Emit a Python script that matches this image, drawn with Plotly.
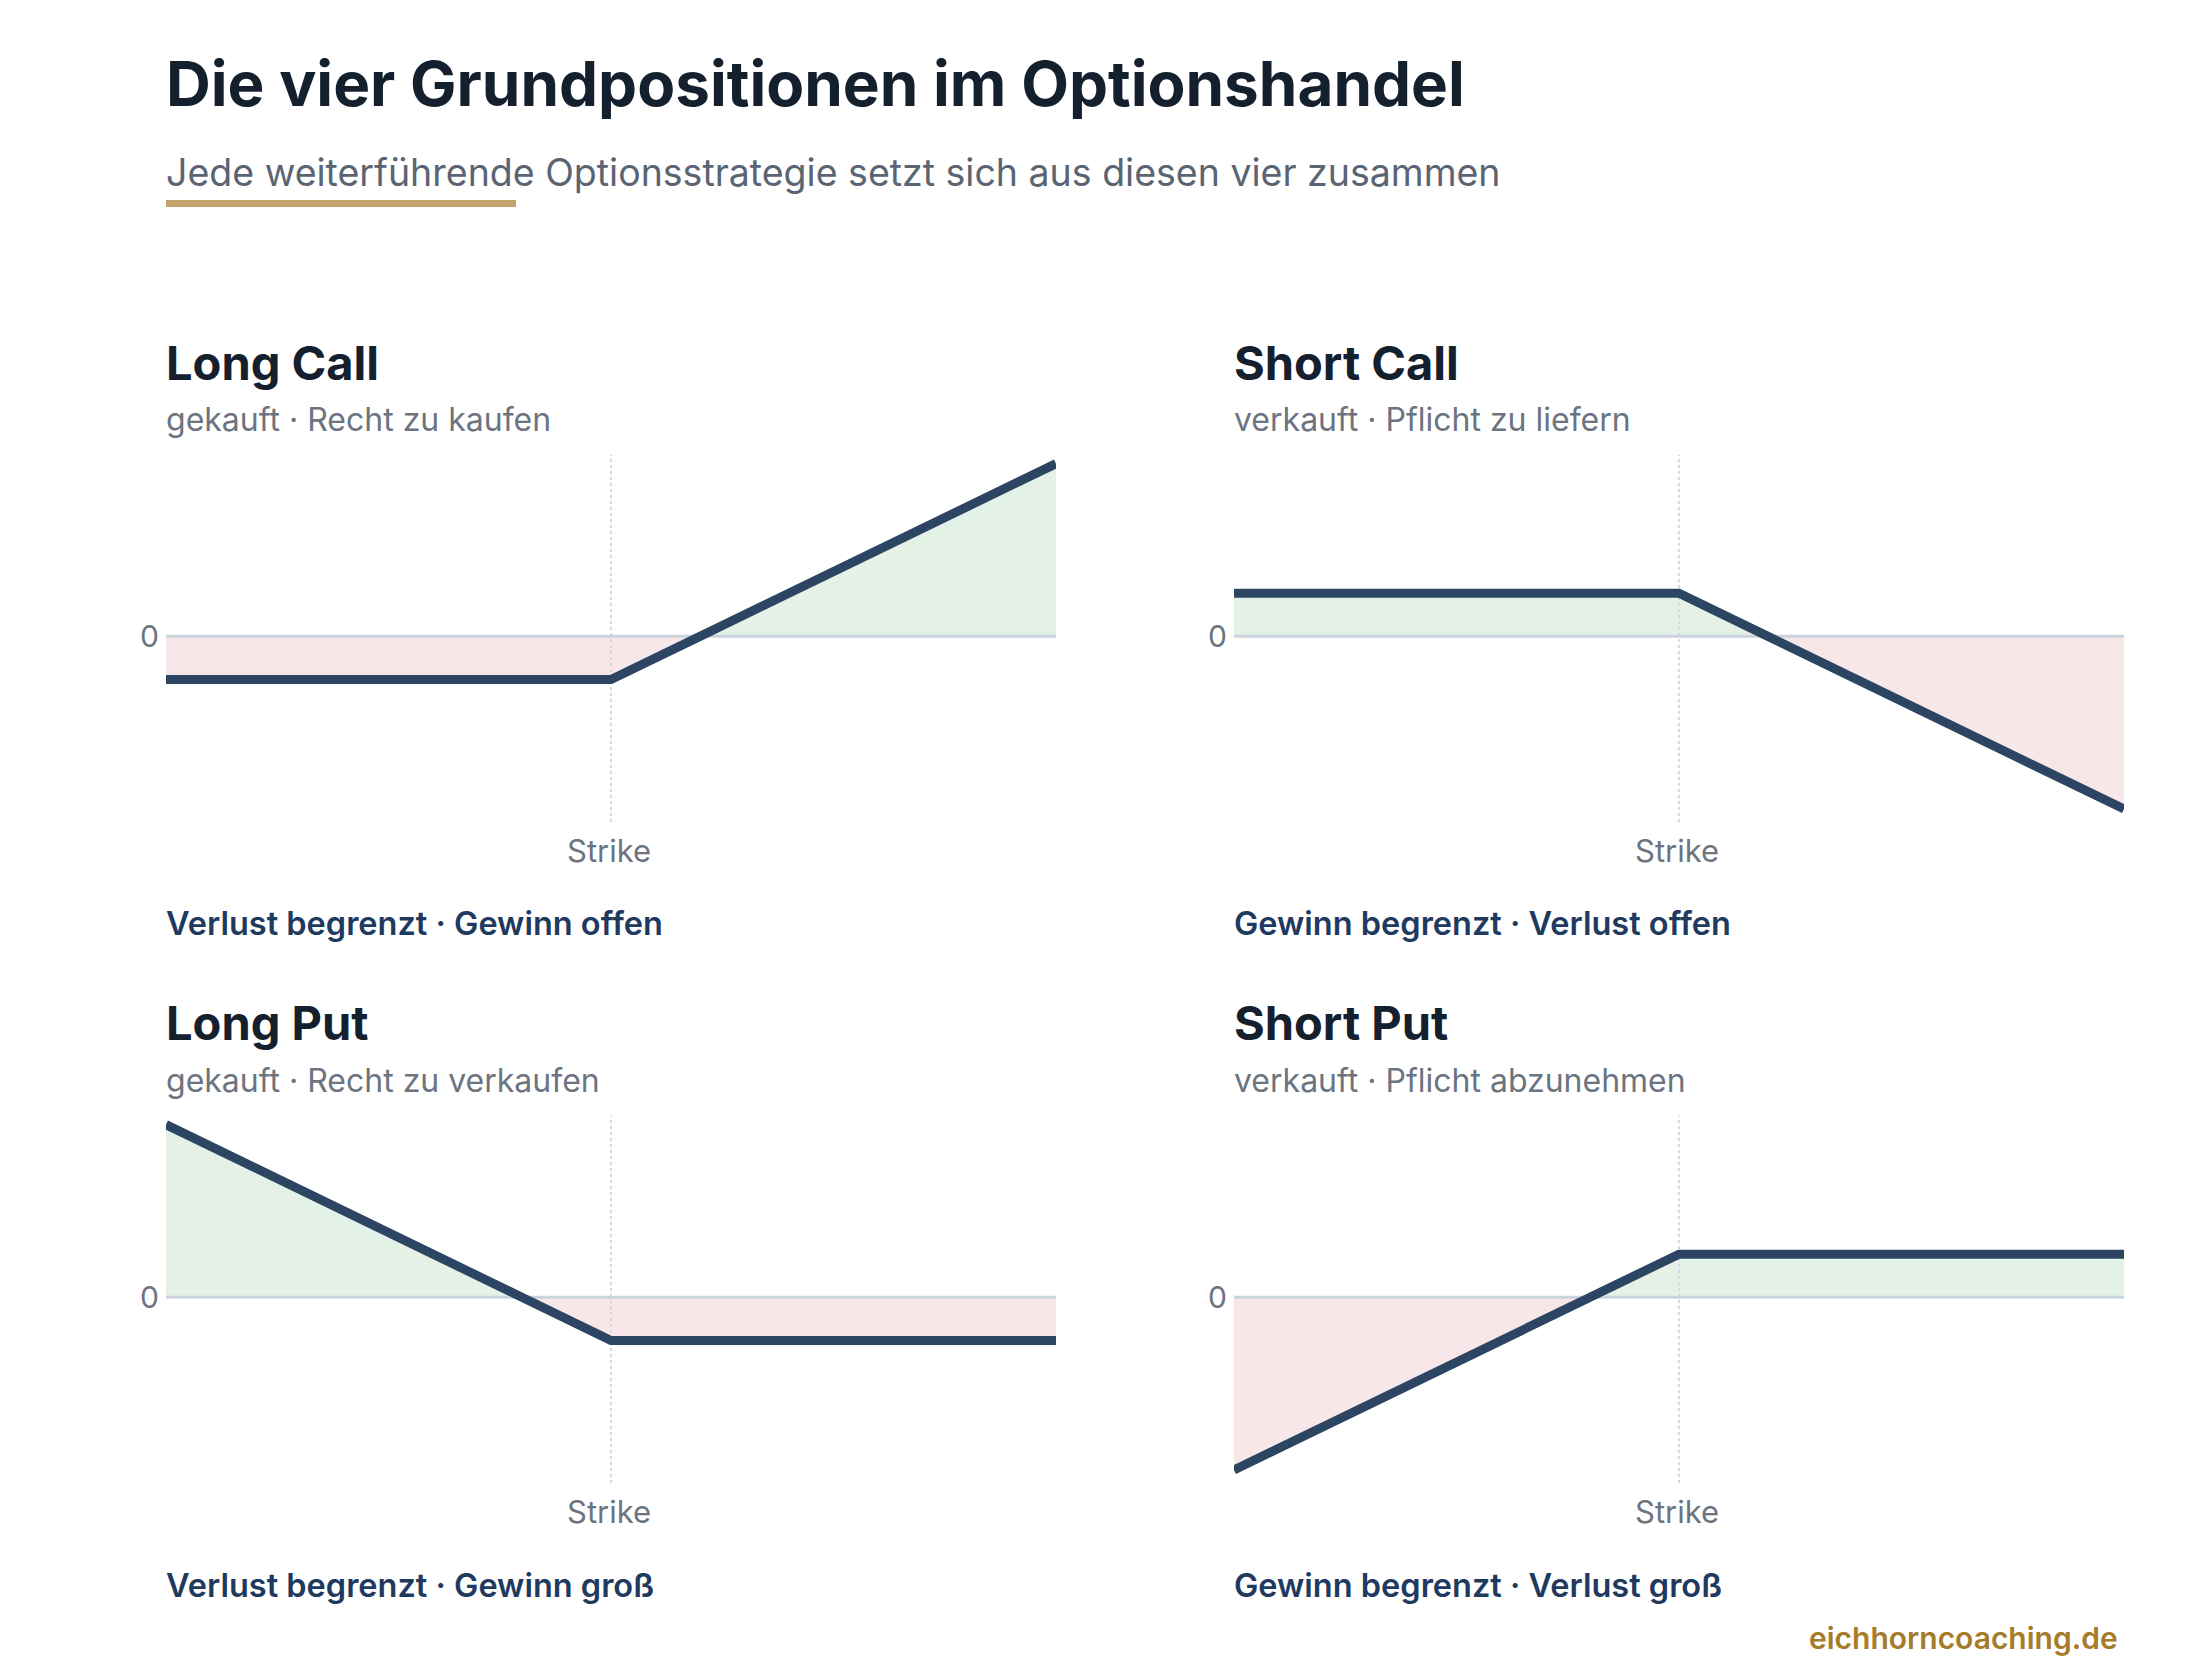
import plotly.graph_objects as go

W, H = 2200, 1680
titles = ["Long Call", "Short Call", "Long Put", "Short Put"]
subtitles = ["gekauft · Recht zu kaufen", "verkauft · Pflicht zu liefern",
             "gekauft · Recht zu verkaufen", "verkauft · Pflicht abzunehmen"]
notes = ["Verlust begrenzt · Gewinn offen", "Gewinn begrenzt · Verlust offen",
         "Verlust begrenzt · Gewinn groß", "Gewinn begrenzt · Verlust groß"]
x_call = [0, 50, 60, 100]
x_put = [0, 40, 50, 100]
xs = [x_call, x_call, x_put, x_put]
ys = [[-1, -1, 0, 4], [1, 1, 0, -4], [4, 0, -1, -1], [-4, 0, 1, 1]]
strike = 50

FONT = "Inter"
LINE = "#2b4563"
GREEN = "rgba(200,228,208,0.5)"
RED = "rgba(240,208,212,0.5)"

fig = go.Figure()
lefts = [158, 1226]
pw = 890
tops = [447, 1108]
ph = 367
def py(p): return 1 - p / H
def px(p): return p / W

ann = []
shapes = []
for i in range(4):
    r, c = divmod(i, 2)
    n = i + 1
    xa = "x" if n == 1 else f"x{n}"
    ya = "y" if n == 1 else f"y{n}"
    x, y = xs[i], ys[i]
    pos = [max(v, 0) for v in y]
    neg = [min(v, 0) for v in y]
    fig.add_trace(go.Scatter(x=x, y=pos, fill="tozeroy", fillcolor=GREEN, line=dict(width=0),
                             mode="lines", xaxis=xa, yaxis=ya, hoverinfo="skip"))
    fig.add_trace(go.Scatter(x=x, y=neg, fill="tozeroy", fillcolor=RED, line=dict(width=0),
                             mode="lines", xaxis=xa, yaxis=ya, hoverinfo="skip"))
    fig.add_trace(go.Scatter(x=[strike, strike], y=[-4.3, 4.3], mode="lines",
                             line=dict(color="#d5d9df", width=2, dash="dot"), xaxis=xa, yaxis=ya, hoverinfo="skip"))
    fig.add_trace(go.Scatter(x=[0, 100], y=[0, 0], mode="lines",
                             line=dict(color="#cbd3dc", width=3), xaxis=xa, yaxis=ya, hoverinfo="skip"))
    fig.add_trace(go.Scatter(x=x, y=y, mode="lines", line=dict(color=LINE, width=9),
                             xaxis=xa, yaxis=ya, hoverinfo="skip"))
    L, T = lefts[c], tops[r]
    fig.layout[f"xaxis{'' if n == 1 else n}"] = dict(domain=[px(L), px(L + pw)], range=[0, 100],
        showgrid=False, zeroline=False, showticklabels=False, anchor=ya, fixedrange=True)
    fig.layout[f"yaxis{'' if n == 1 else n}"] = dict(domain=[py(T + ph), py(T)], range=[-4.3, 4.2],
        showgrid=False, zeroline=False, tickvals=[0], ticktext=["0"], ticks="", ticklabelstandoff=6,
        tickfont=dict(size=30, color="#6b7480", family=FONT), anchor=xa, fixedrange=True)
    ann += [
        dict(x=px(L), y=py(T - 93), text=f"<b>{titles[i]}</b>", showarrow=False, xanchor="left",
             yanchor="middle", font=dict(size=47, color="#14202e", family=FONT)),
        dict(x=px(L), y=py(T - 36), text=subtitles[i], showarrow=False, xanchor="left",
             yanchor="middle", font=dict(size=32, color="#6b7480", family=FONT)),
        dict(x=px(L + pw * 0.5), y=py(T + 395), text="Strike", showarrow=False, xanchor="center",
             yanchor="middle", font=dict(size=31, color="#6b7480", family=FONT)),
        dict(x=px(L), y=py(T + 469), text=notes[i], showarrow=False, xanchor="left",
             yanchor="middle", font=dict(size=32.5, color="#1f3a5f", family=FONT, weight=600)),
    ]

ann += [
    dict(x=px(158), y=py(76), text="<b>Die vier Grundpositionen im Optionshandel</b>", showarrow=False,
         xanchor="left", yanchor="middle", font=dict(size=62, color="#14202e", family=FONT)),
    dict(x=px(158), y=py(165), text="Jede weiterführende Optionsstrategie setzt sich aus diesen vier zusammen",
         showarrow=False, xanchor="left", yanchor="middle", font=dict(size=37.5, color="#5a6472", family=FONT)),
    dict(x=px(2114), y=py(1630), text="eichhorncoaching.de", showarrow=False, xanchor="right",
         yanchor="middle", font=dict(size=30, color="#a67c2a", family=FONT, weight=600)),
]
for a in ann:
    a["xref"] = "paper"
    a["yref"] = "paper"
    a["xshift"] = -2
shapes.append(dict(type="rect", xref="paper", yref="paper", x0=px(158), x1=px(508),
                   y0=py(199), y1=py(192), fillcolor="#c4a36a", line=dict(width=0)))

fig.update_layout(width=W, height=H, margin=dict(l=0, r=0, t=0, b=0), showlegend=False,
                  paper_bgcolor="white", plot_bgcolor="white", annotations=ann, shapes=shapes)
fig.write_html("out.html")
